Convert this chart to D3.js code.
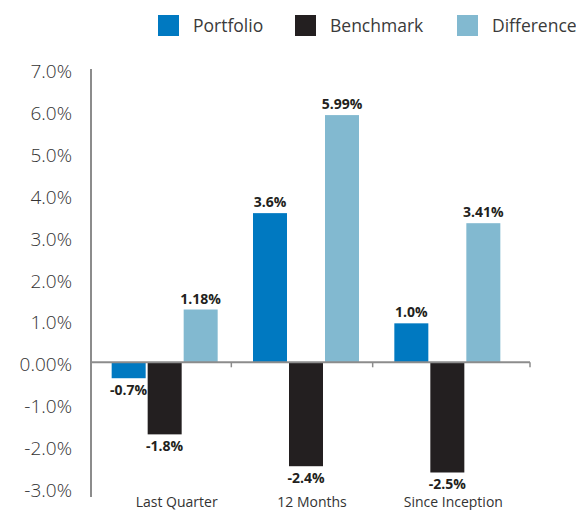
<!DOCTYPE html>
<html>
<head>
<meta charset="utf-8">
<script src="https://cdn.jsdelivr.net/npm/d3@7"></script>
<style>
  body { margin: 0; background: #fff; }
  svg { font-family: "Open Sans", "DejaVu Sans", sans-serif; }
  .ytick { font-size: 19px; fill: #333; font-weight: 300; }
  .cat { font-size: 14px; fill: #333; }
  .value { font-size: 14px; font-weight: bold; fill: #231f20; }
  .legend { font-size: 17.5px; fill: #3a3a3a; }
</style>
</head>
<body>
<div id="container"></div>
<script>
const categories = ['Last Quarter', '12 Months', 'Since Inception'];
const seriesNames = ['Portfolio', 'Benchmark', 'Difference'];
// bar lengths as drawn in the picture (labels below are the printed values)
const portfolio = [-0.38, 3.56, 0.93];
const benchmark = [-1.72, -2.48, -2.63];
const difference = [1.26, 5.9, 3.32];
const valueLabels = [
    ['-0.7%', '3.6%', '1.0%'],
    ['-1.8%', '-2.4%', '-2.5%'],
    ['1.18%', '5.99%', '3.41%']
];
const yTicks = [7, 6, 5, 4, 3, 2, 1, 0, -1, -2, -3];
const yTickLabels = ['7.0%', '6.0%', '5.0%', '4.0%', '3.0%', '2.0%', '1.0%', '0.00%', '-1.0%', '-2.0%', '-3.0%'];
const colors = ['#0079c1', '#231f20', '#82b9d0'];

const series = [portfolio, benchmark, difference];
const data = [];
categories.forEach((c, ci) => {
    series.forEach((s, si) => {
        data.push({ cat: c, name: seriesNames[si], value: s[ci], label: valueLabels[si][ci] });
    });
});

const svg = d3.select('#container').append('svg')
    .attr('width', 576)
    .attr('height', 510);

const left = 91, axisEnd = 530;

const yScale = d3.scaleLinear()
    .domain([-3, 7])
    .range([488, 69]);

const xScale = d3.scaleBand()
    .domain(categories)
    .range([94, 518])
    .paddingInner(0)
    .paddingOuter(0);

const innerScale = d3.scaleBand()
    .domain(seriesNames)
    .range([0, 106])
    .paddingInner(0.0556);

const groupX = (c) => xScale(c) + xScale.bandwidth() / 2 - 53;

// y tick labels
svg.append('g')
    .selectAll('text')
    .data(yTicks)
    .enter()
    .append('text')
    .attr('class', 'ytick')
    .attr('x', 72)
    .attr('y', (d) => yScale(d) + 9)
    .attr('text-anchor', 'end')
    .text((d, i) => yTickLabels[i]);

// bars
const barGroups = svg.selectAll('.bar')
    .data(data)
    .enter()
    .append('g');

barGroups.append('rect')
    .attr('x', (d) => groupX(d.cat) + innerScale(d.name))
    .attr('y', (d) => yScale(Math.max(0, d.value)))
    .attr('width', innerScale.bandwidth())
    .attr('height', (d) => Math.abs(yScale(d.value) - yScale(0)))
    .attr('fill', (d) => colors[seriesNames.indexOf(d.name)]);

barGroups.append('text')
    .attr('class', 'value')
    .attr('x', (d) => groupX(d.cat) + innerScale(d.name) + innerScale.bandwidth() / 2)
    .attr('y', (d) => d.value >= 0 ? yScale(d.value) - 6 : yScale(d.value) + 17)
    .attr('text-anchor', 'middle')
    .text((d) => d.label);

// y axis line
svg.append('line')
    .attr('x1', left).attr('x2', left)
    .attr('y1', yScale(7)).attr('y2', 497)
    .attr('stroke', '#8c8c8c')
    .attr('stroke-width', 2);

// x axis at zero
const y0 = yScale(0);
svg.append('line')
    .attr('x1', left).attr('x2', axisEnd)
    .attr('y1', y0).attr('y2', y0)
    .attr('stroke', '#8c8c8c')
    .attr('stroke-width', 2);

const sepX = categories.slice(1).map((c) => xScale(c) - 4).concat([axisEnd]);
svg.append('g')
    .selectAll('line')
    .data(sepX)
    .enter()
    .append('line')
    .attr('x1', (d) => d)
    .attr('x2', (d) => d)
    .attr('y1', y0).attr('y2', y0 + 5)
    .attr('stroke', '#8c8c8c')
    .attr('stroke-width', 1.5);

// category labels
svg.append('g')
    .selectAll('text')
    .data(categories)
    .enter()
    .append('text')
    .attr('class', 'cat')
    .attr('x', (d, i) => xScale(d) + xScale.bandwidth() / 2 + (i === 0 ? 12 : 6))
    .attr('y', 507)
    .attr('text-anchor', 'middle')
    .text((d) => d);

// legend
const legendX = [158, 295, 457];
const legend = svg.append('g')
    .selectAll('g')
    .data(seriesNames)
    .enter()
    .append('g')
    .attr('transform', (d, i) => `translate(${legendX[i]}, 15)`);

legend.append('rect')
    .attr('width', 21)
    .attr('height', 21)
    .attr('fill', (d, i) => colors[i]);

legend.append('text')
    .attr('class', 'legend')
    .attr('x', 35)
    .attr('y', 17)
    .text((d) => d);
</script>
</body>
</html>
